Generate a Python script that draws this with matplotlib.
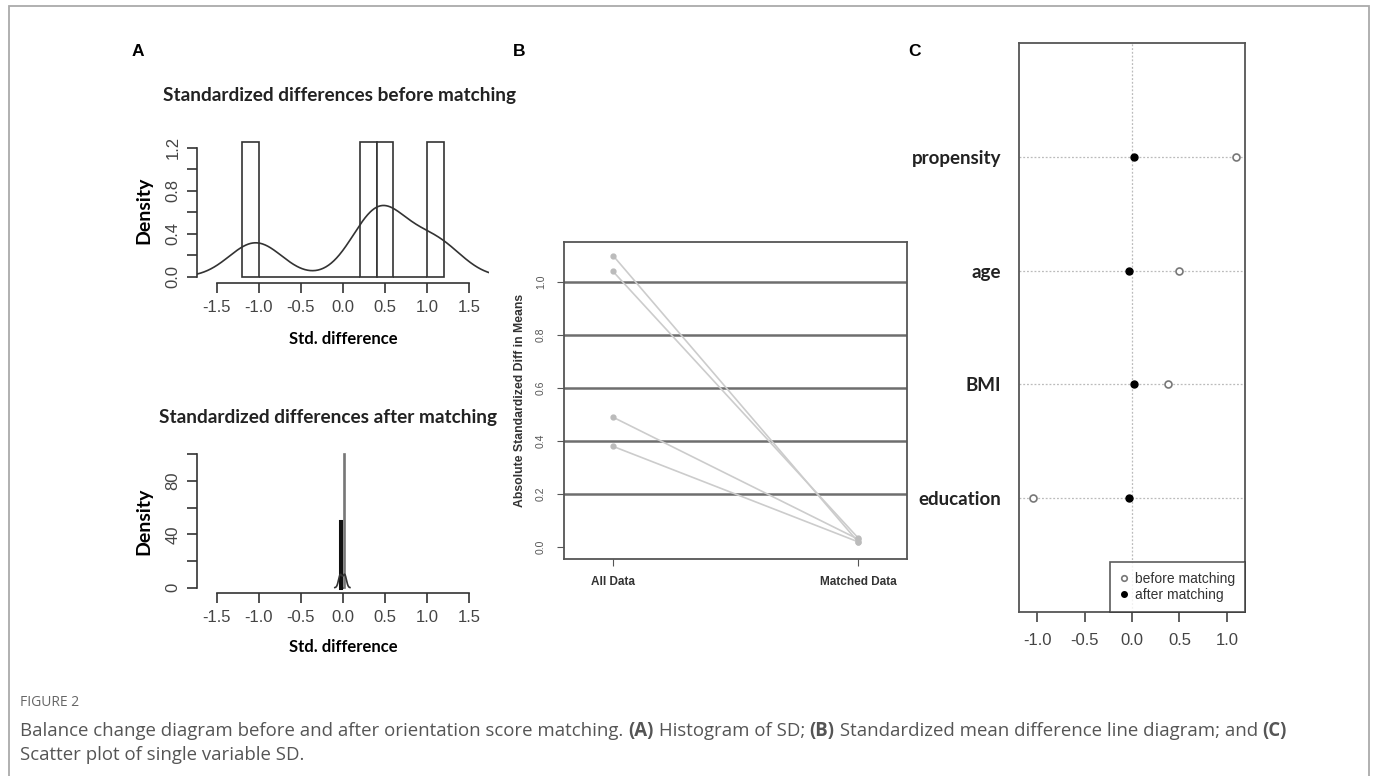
import numpy as np
import matplotlib
matplotlib.use('Agg')
import matplotlib.pyplot as plt
from matplotlib.patches import Rectangle

plt.rcParams['font.family'] = ['Liberation Sans', 'DejaVu Sans']
plt.rcParams['axes.unicode_minus'] = False

W, H = 1375, 776

covariates = ['propensity', 'age', 'BMI', 'education']
sd_before = [1.10, 0.49, 0.38, -1.04]
sd_after = [0.02, -0.03, 0.02, -0.035]

# histogram breaks as drawn in panel A
breaks_before = np.round(np.arange(-1.2, 1.21, 0.2), 2)
breaks_after = [-0.039, -0.029, 0.015, 0.02]

group_labels = ['All Data', 'Matched Data']

caption_title = 'FIGURE 2'
caption_line1 = [('Balance change diagram before and after orientation score matching. ', False),
                 ('(A)', True), (' Histogram of SD; ', False), ('(B)', True),
                 (' Standardized mean difference line diagram; and ', False), ('(C)', True)]
caption_line2 = 'Scatter plot of single variable SD.'

TITLE_FONT = 'Lato'
TICK_COLOR = '#444444'


def px_axes(fig, left, top, right, bottom):
    return fig.add_axes([left / W, 1 - bottom / H, (right - left) / W, (bottom - top) / H])


def kde_nrd0(values, n=512):
    v = np.asarray(values, float)
    sd = v.std(ddof=1)
    q1, q3 = np.percentile(v, [25, 75])
    bw = 0.9 * min(sd, (q3 - q1) / 1.34) * len(v) ** -0.2
    grid = np.linspace(v.min() - 3 * bw, v.max() + 3 * bw, n)
    dens = np.exp(-0.5 * ((grid[:, None] - v[None, :]) / bw) ** 2).sum(1) / (len(v) * bw * np.sqrt(2 * np.pi))
    return grid, dens


def r_style(ax, xb, yb):
    for s in ['top', 'right']:
        ax.spines[s].set_visible(False)
    ax.spines['left'].set_bounds(*yb)
    ax.spines['bottom'].set_bounds(*xb)
    for s in ['left', 'bottom']:
        ax.spines[s].set_color('#333333')
        ax.spines[s].set_linewidth(1.2)
    ax.tick_params(direction='out', length=7, width=1.2, color='#333333',
                   labelsize=12, labelcolor=TICK_COLOR, pad=5)
    for lab in ax.get_yticklabels():
        lab.set_rotation(90)
        lab.set_va('center')


fig = plt.figure(figsize=(W / 100, H / 100), dpi=100)

# outer frame (open at the bottom)
fig.patches.append(Rectangle((9 / W, -0.05), (1369 - 9) / W, 1.05 - 6 / H, transform=fig.transFigure,
                             fill=False, edgecolor='#aaaaaa', linewidth=1.3))

# ---------- panel A, before matching ----------
ax = px_axes(fig, 197, 137, 489, 283)
ax.hist(sd_before, bins=breaks_before, density=True, histtype='bar',
        facecolor='white', edgecolor='#333333', linewidth=1.2)
gx, gy = kde_nrd0(sd_before)
ax.plot(gx, gy, color='#333333', lw=1.2)
ax.set_xlim(-1.738, 1.738)
ax.set_ylim(-0.056, 1.30)
ax.set_xticks([-1.5, -1.0, -0.5, 0.0, 0.5, 1.0, 1.5])
ax.set_yticks([0, 0.2, 0.4, 0.6, 0.8, 1.0, 1.2])
ax.set_yticklabels(['0.0', '', '0.4', '', '0.8', '', '1.2'])
r_style(ax, (-1.5, 1.5), (0, 1.2))
ax.set_ylabel('Density', fontfamily=TITLE_FONT, fontweight='bold', fontsize=14, labelpad=9)
ax.set_xlabel('Std. difference', fontfamily=TITLE_FONT, fontweight='bold', fontsize=12, labelpad=12)
fig.text(340 / W, 1 - 95 / H, 'Standardized differences before matching', ha='center', va='center',
         fontfamily=TITLE_FONT, fontweight='bold', fontsize=13.7, color='#222222')

# ---------- panel A, after matching ----------
ax = px_axes(fig, 197, 449, 489, 593)
n, b, patches = ax.hist(sd_after, bins=breaks_after, density=True, histtype='bar',
                        facecolor='white', edgecolor='#111111', linewidth=1.2)
patches[0].set_facecolor('#111111')
patches[0].set_linewidth(2.2)
patches[-1].set_edgecolor('#777777')
gx, gy = kde_nrd0(sd_after)
ax.plot(gx, gy, color='#333333', lw=1.2)
ax.set_xlim(-1.738, 1.738)
ax.set_ylim(-4, 104)
ax.set_xticks([-1.5, -1.0, -0.5, 0.0, 0.5, 1.0, 1.5])
ax.set_yticks([0, 20, 40, 60, 80, 100])
ax.set_yticklabels(['0', '', '40', '', '80', ''])
r_style(ax, (-1.5, 1.5), (0, 100))
ax.set_ylabel('Density', fontfamily=TITLE_FONT, fontweight='bold', fontsize=14, labelpad=9)
ax.set_xlabel('Std. difference', fontfamily=TITLE_FONT, fontweight='bold', fontsize=12, labelpad=10)
fig.text(328 / W, 1 - 417 / H, 'Standardized differences after matching', ha='center', va='center',
         fontfamily=TITLE_FONT, fontweight='bold', fontsize=13.7, color='#222222')

# ---------- panel B ----------
ax = px_axes(fig, 564, 242, 907, 559)
for yv in [0.2, 0.4, 0.6, 0.8, 1.0]:
    ax.axhline(yv, color='#6e6e6e', lw=1.8, zorder=1)
for bv, av in zip(sd_before, sd_after):
    ax.plot([1, 2], [abs(bv), abs(av)], color='#cccccc', lw=1.2, zorder=2)
    ax.plot([1, 2], [abs(bv), abs(av)], ls='none', marker='o', ms=3.5, color='#bbbbbb', zorder=3)
ax.set_xlim(0.8, 2.2)
ax.set_ylim(-0.045, 1.151)
ax.set_xticks([1, 2])
ax.set_xticklabels(group_labels, fontweight='bold', fontsize=8.5, color='#333333')
ax.set_yticks([0, 0.2, 0.4, 0.6, 0.8, 1.0])
ax.set_yticklabels(['0.0', '0.2', '0.4', '0.6', '0.8', '1.0'], rotation=90, va='center', fontsize=7.5,
                   color='#555555')
for s in ax.spines.values():
    s.set_color('#555555')
    s.set_linewidth(1.3)
ax.tick_params(direction='out', length=5, color='#555555', pad=8)
ax.tick_params(axis='x', pad=7)
ax.set_ylabel('Absolute Standardized Diff in Means', fontweight='bold', fontsize=8.8, color='#333333',
              labelpad=7)

# ---------- panel C ----------
ax = px_axes(fig, 1019, 43, 1245, 612)
ypos = np.arange(len(covariates), 0, -1)
for yv in ypos:
    ax.axhline(yv, color='#bbbbbb', lw=0.9, ls=(0, (1.5, 1.5)), zorder=1)
ax.axvline(0, color='#bbbbbb', lw=0.9, ls=(0, (1.5, 1.5)), zorder=1)
ax.plot(sd_before, ypos, ls='none', marker='o', ms=5, mfc='white', mec='#777777', mew=1.2,
        label='before matching', zorder=3)
ax.plot(sd_after, ypos, ls='none', marker='o', ms=5, mfc='black', mec='black',
        label='after matching', zorder=3)
ax.set_xlim(-1.19, 1.19)
ax.set_ylim(0, 5)
ax.set_xticks([-1.0, -0.5, 0.0, 0.5, 1.0])
ax.set_xticklabels(['-1.0', '-0.5', '0.0', '0.5', '1.0'])
ax.set_yticks(ypos)
ax.set_yticklabels(covariates, fontfamily=TITLE_FONT, fontweight='bold', fontsize=13.5, color='#222222')
ax.tick_params(axis='y', length=0, pad=13)
ax.tick_params(axis='x', direction='out', length=7, width=1.2, color='#444444', labelsize=12,
               labelcolor=TICK_COLOR, pad=8)
for s in ax.spines.values():
    s.set_color('#555555')
    s.set_linewidth(1.3)
leg = ax.legend(loc='lower right', frameon=True, fancybox=False, fontsize=10, borderaxespad=0,
                handlelength=0.6, handletextpad=0.5, borderpad=0.7, labelspacing=0.2, markerscale=0.8)
leg.get_frame().set_edgecolor('#333333')
leg.get_frame().set_linewidth(1.2)
for t in leg.get_texts():
    t.set_color('#333333')

# panel letters
for x, lab in [(138, 'A'), (519, 'B'), (915, 'C')]:
    fig.text(x / W, 1 - 52 / H, lab, ha='center', va='center', fontsize=12.5, fontweight='bold')

# caption
fig.text(20 / W, 1 - 702 / H, caption_title, ha='left', va='center', fontsize=10,
         fontfamily='Open Sans', color='#666666')

fig.canvas.draw()
renderer = fig.canvas.get_renderer()
x0 = 20
for txt, bold in caption_line1:
    t = fig.text(x0 / W, 1 - 731 / H, txt, ha='left', va='center', fontsize=13.4, fontfamily='Open Sans',
                 fontweight='bold' if bold else 'normal', color='#555555')
    x0 = t.get_window_extent(renderer).x1
fig.text(20 / W, 1 - 755 / H, caption_line2, ha='left', va='center', fontsize=13.4,
         fontfamily='Open Sans', color='#555555')

fig.savefig('out.png', dpi=100)
